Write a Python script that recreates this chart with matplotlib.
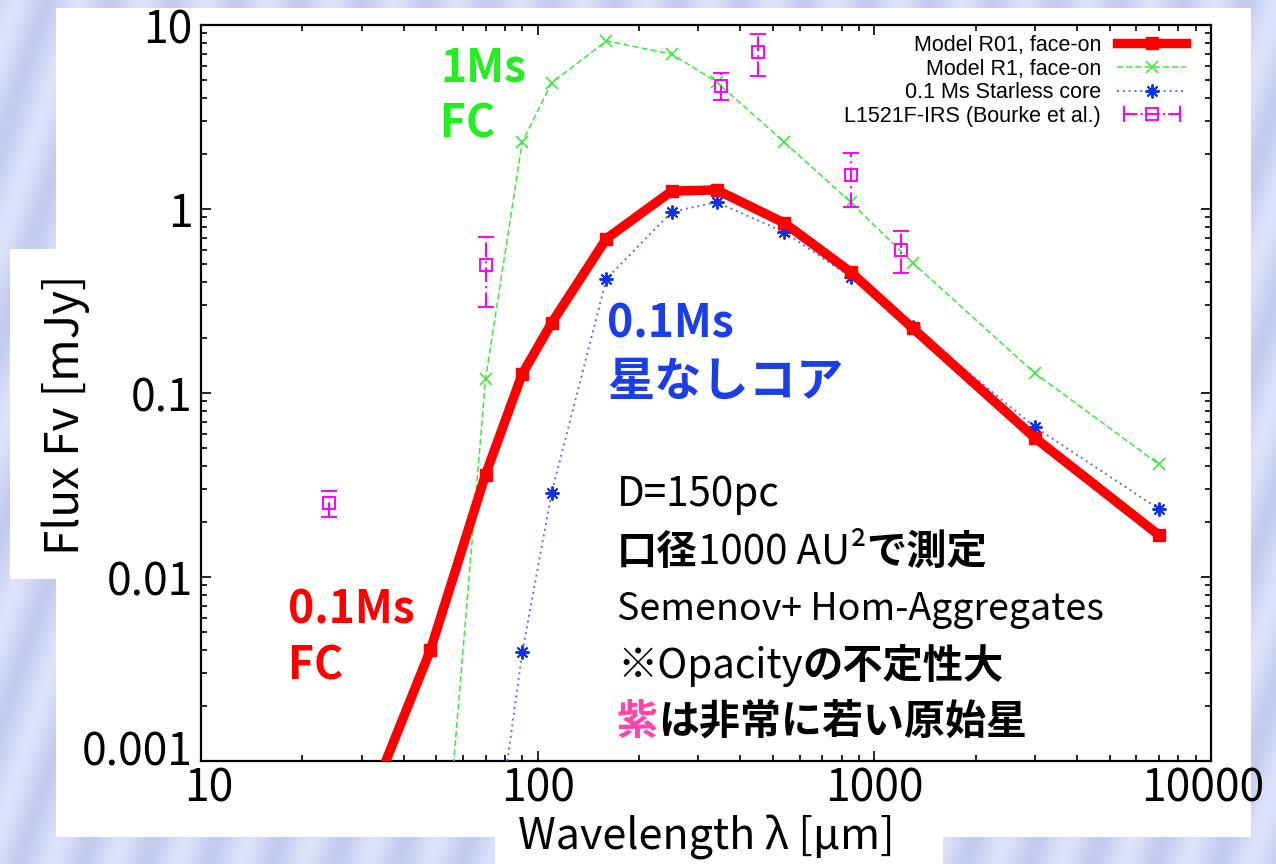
import numpy as np
import matplotlib
matplotlib.use("Agg")
import matplotlib.pyplot as plt
from matplotlib.patches import Rectangle
from matplotlib.lines import Line2D
from matplotlib.text import Annotation
from matplotlib.transforms import ScaledTranslation
from matplotlib.legend_handler import HandlerLine2D, HandlerTuple
from matplotlib.ticker import FixedLocator, FixedFormatter, LogLocator, NullFormatter

plt.rcParams['font.family'] = ['Noto Sans CJK JP', 'DejaVu Sans']

# ------------------ DATA ------------------
# Model R01, face-on (0.1 Ms first core)
lam_r01 = [24, 48, 70, 90, 110, 160, 250, 340, 540, 850, 1300, 3000, 7000]
flux_r01 = [1.7e-4, 0.0040, 0.036, 0.127, 0.24, 0.69, 1.25, 1.27, 0.84, 0.455, 0.225, 0.057, 0.0169]

# Model R1, face-on (1 Ms first core)
lam_r1 = [48, 70, 90, 110, 160, 250, 340, 540, 850, 1300, 3000, 7000]
flux_r1 = [2.9e-5, 0.119, 2.31, 4.84, 8.2, 6.95, 4.9, 2.31, 1.09, 0.51, 0.128, 0.041]

# 0.1 Ms starless core
lam_sc = [70, 90, 110, 160, 250, 340, 540, 850, 1300, 3000, 7000]
flux_sc = [1.35e-4, 0.0039, 0.0286, 0.417, 0.964, 1.09, 0.75, 0.427, 0.229, 0.0653, 0.0234]

# L1521F-IRS (Bourke et al.) with error bars
lam_obs = [24, 70, 350, 450, 850, 1200]
flux_obs = [0.0252, 0.497, 4.66, 7.13, 1.53, 0.598]
flux_obs_lo = [0.0212, 0.293, 3.91, 5.28, 1.03, 0.449]
flux_obs_hi = [0.0293, 0.705, 5.48, 8.93, 2.01, 0.759]

xticks = [10, 100, 1000, 10000]
xticklabels = ['10', '100', '1000', '10000']
yticks = [0.001, 0.01, 0.1, 1, 10]
yticklabels = ['0.001', '0.01', '0.1', '1', '10']

RED = '#ff0000'
GREEN = '#3ee83e'
BLUE = '#1030f0'
MAGENTA = '#ff00ff'

W, H = 1276, 864


def fx(x):
    return x / W


def fy(y):
    return 1 - y / H


fig = plt.figure(figsize=(W / 100, H / 100), dpi=100)

# ------------------ slide background ------------------
bg = fig.add_axes([0, 0, 1, 1], zorder=-3)
yy, xx = np.mgrid[0:H, 0:W]
t = xx * np.cos(np.radians(18)) + yy * np.sin(np.radians(18))
stripes = 0.5 + 0.5 * np.sin(2 * np.pi * t / 60.0)
c0 = np.array([0.76, 0.80, 0.94])
c1 = np.array([0.87, 0.89, 0.98])
img = c0 + (c1 - c0) * stripes[..., None]
bg.imshow(img, aspect='auto', interpolation='bilinear')
bg.axis('off')

# white panels of the slide
for (x0, y0, x1, y1) in [(56, 8, 1251, 837), (10, 249, 60, 579), (495, 830, 943, 864)]:
    fig.patches.append(Rectangle((fx(x0), fy(y1)), fx(x1) - fx(x0), fy(y0) - fy(y1),
                                 transform=fig.transFigure, facecolor='white',
                                 edgecolor='none', zorder=-2))

# ------------------ main plot ------------------
ax = fig.add_axes([fx(201), fy(761), fx(1211) - fx(201), fy(25) - fy(761)])
ax.set_facecolor('white')
ax.set_xscale('log')
ax.set_yscale('log')
ax.set_xlim(10, 10000)
ax.set_ylim(0.001, 10)

l_r01, = ax.plot(lam_r01, flux_r01, color=RED, lw=6.8, marker='s', ms=8,
                 zorder=4, solid_joinstyle='miter')
l_r1, = ax.plot(lam_r1, flux_r1, color=GREEN, lw=1.1, ls=(0, (4, 2)), marker='x',
                ms=8, mew=1.2, zorder=3)
l_sc, = ax.plot(lam_sc, flux_sc, color='#5a6cff', lw=1.4, ls=(0, (1, 2)),
                marker=(8, 2, 0), ms=10, mec=BLUE, mew=1.4, zorder=3)

yerr = [np.array(flux_obs) - np.array(flux_obs_lo), np.array(flux_obs_hi) - np.array(flux_obs)]
eb = ax.errorbar(lam_obs, flux_obs, yerr=yerr, fmt='s', mfc='none', mec=MAGENTA,
                 ms=9, mew=1.4, ecolor=MAGENTA, elinewidth=1.5, capsize=6,
                 capthick=1.5, zorder=5)
eb[2][0].set_linestyle((0, (7, 2, 1, 2)))

ax.xaxis.set_major_locator(FixedLocator(xticks))
ax.xaxis.set_major_formatter(FixedFormatter(xticklabels))
ax.yaxis.set_major_locator(FixedLocator(yticks))
ax.yaxis.set_major_formatter(FixedFormatter(yticklabels))
ax.xaxis.set_minor_locator(LogLocator(base=10, subs=np.arange(2, 10)))
ax.yaxis.set_minor_locator(LogLocator(base=10, subs=np.arange(2, 10)))
ax.xaxis.set_minor_formatter(NullFormatter())
ax.yaxis.set_minor_formatter(NullFormatter())
ax.tick_params(which='both', direction='in', top=True, right=True, width=1.2, colors='black')
ax.tick_params(which='major', length=7.5, labelsize=32)
ax.tick_params(which='minor', length=4)
ax.tick_params(axis='x', which='major', pad=3)
ax.tick_params(axis='y', which='major', pad=6)
for s in ax.spines.values():
    s.set_linewidth(1.6)

# nudge the corner tick labels apart, as on the slide
xt = ax.xaxis.get_major_ticks()
yt = ax.yaxis.get_major_ticks()
xt[0].label1.set_transform(xt[0].label1.get_transform() + ScaledTranslation(0.08, 0, fig.dpi_scale_trans))
xt[-1].label1.set_transform(xt[-1].label1.get_transform() + ScaledTranslation(-0.08, 0, fig.dpi_scale_trans))
yt[0].label1.set_transform(yt[0].label1.get_transform() + ScaledTranslation(0, 0.14, fig.dpi_scale_trans))

ax.set_xlabel('Wavelength λ [μm]', fontsize=31, labelpad=3)
ax.set_ylabel('Flux Fv [mJy]', fontsize=33)
ax.yaxis.set_label_coords(-0.11, 0.47)

# ------------------ legend (gnuplot style) ------------------
h_bar = Line2D([], [], color=MAGENTA, ls='-.', lw=1.5, marker='|', ms=12, mew=1.5)
h_sq = Line2D([], [], ls='none', marker='s', mfc='none', mec=MAGENTA, ms=9, mew=1.4)
leg = ax.legend([l_r01, l_r1, l_sc, (h_bar, h_sq)],
                ['Model R01, face-on', 'Model R1, face-on', '0.1 Ms Starless core',
                 'L1521F-IRS (Bourke et al.)'],
                handler_map={h_bar: HandlerLine2D(numpoints=2), tuple: HandlerTuple(ndivide=1)},
                loc='upper right', bbox_to_anchor=((1186 - 201) / 1010, 1 - 10 / 736),
                markerfirst=False, frameon=False, borderpad=0, borderaxespad=0,
                handlelength=3.2, handletextpad=0.75, labelspacing=0.12,
                prop={'family': ['Liberation Sans Narrow', 'Liberation Sans'], 'size': 15.5})

# ------------------ annotations ------------------


def chain_text(x, y, parts, size):
    # consecutive pieces of one line, each starting where the previous ends
    prev = None
    for s, color, weight in parts:
        if prev is None:
            prev = fig.text(fx(x), fy(y), s, color=color, fontweight=weight,
                            fontsize=size, ha='left', va='baseline')
        else:
            prev = fig.add_artist(Annotation(
                s, xy=(1, 0), xycoords=prev, ha='left', va='bottom',
                color=color, fontweight=weight, fontsize=size))


chain_text(440, 82, [('1Ms', '#22ee22', 'bold')], 32)
chain_text(440, 137, [('FC', '#22ee22', 'bold')], 32)
chain_text(607, 338, [('0.1Ms', '#1a3ee8', 'bold')], 32)
chain_text(607, 396, [('星なしコア', '#1a3ee8', 'bold')], 34)
chain_text(288, 623, [('0.1Ms', RED, 'bold')], 32)
chain_text(288, 680, [('FC', RED, 'bold')], 32)

chain_text(617, 506, [('D=150pc', 'black', 'normal')], 29)
chain_text(617, 564, [('口径', 'black', 'bold'), ('1000 AU²', 'black', 'normal'),
                      ('で測定', 'black', 'bold')], 29)
chain_text(617, 620, [('Semenov+ Hom-Aggregates', 'black', 'normal')], 27)
chain_text(617, 678, [('※Opacity', 'black', 'normal'), ('の不定性大', 'black', 'bold')], 29)
chain_text(617, 734, [('紫', '#ff44aa', 'bold'), ('は非常に若い原始星', 'black', 'bold')], 29.5)

fig.savefig('out.png', dpi=100)
